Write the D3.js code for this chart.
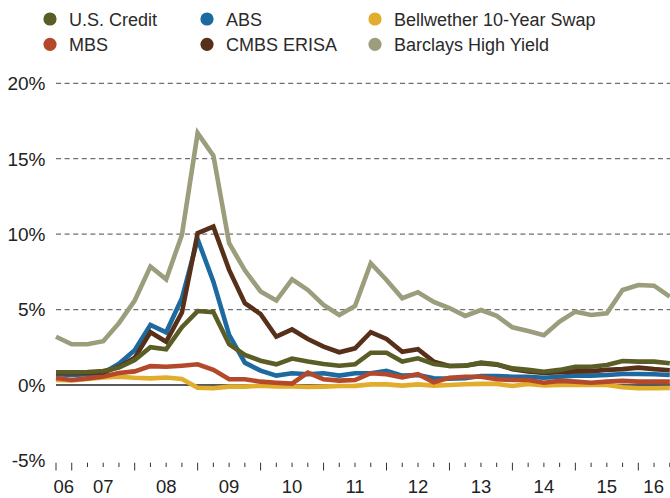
<!DOCTYPE html>
<html><head><meta charset="utf-8">
<script src="https://cdn.jsdelivr.net/npm/d3@7"></script>
<style>
html,body{margin:0;padding:0;background:#fff;}
svg{display:block;font-family:"Liberation Sans",Arial,Helvetica,sans-serif;}
</style></head>
<body>
<svg id="chart" width="670" height="498"></svg>
<script>
// Quarterly observations, 2006 Q4 .. 2016 Q3
const quarters = [];
(function(){ let y=2006,q=4; for(let i=0;i<40;i++){ quarters.push(y+"Q"+q); q++; if(q>4){q=1;y++;} } })();

const seriesNames = ["U.S. Credit","ABS","Bellwether 10-Year Swap","MBS","CMBS ERISA","Barclays High Yield"];
const seriesColors = ["#5a5d25","#1d6aa1","#e2ad2c","#b4482a","#57301a","#9b9d7c"];

const usCredit = [0.84,0.84,0.86,0.93,1.15,1.66,2.5,2.37,3.83,4.9,4.82,2.7,1.99,1.61,1.37,1.75,1.55,1.39,1.28,1.37,2.14,2.14,1.55,1.77,1.39,1.26,1.27,1.48,1.37,1.1,1.0,0.88,1.0,1.21,1.21,1.33,1.59,1.55,1.55,1.44];
const abs = [0.71,0.66,0.72,0.8,1.4,2.3,3.98,3.49,5.75,9.66,6.85,3.32,1.48,0.95,0.62,0.78,0.71,0.78,0.62,0.78,0.78,0.93,0.62,0.66,0.44,0.42,0.45,0.6,0.6,0.55,0.55,0.48,0.55,0.62,0.62,0.66,0.73,0.73,0.71,0.66];
const swap = [0.33,0.3,0.4,0.5,0.55,0.48,0.44,0.5,0.4,-0.18,-0.22,-0.11,-0.11,-0.05,-0.1,-0.1,-0.13,-0.11,-0.07,-0.06,0.04,0.04,-0.04,0.04,-0.04,0.0,0.05,0.07,0.07,-0.07,0.07,-0.03,0.0,0.0,0.0,0.0,-0.15,-0.22,-0.22,-0.2];
const mbs = [0.46,0.33,0.44,0.57,0.8,0.9,1.25,1.21,1.28,1.37,1.0,0.38,0.38,0.22,0.15,0.09,0.82,0.38,0.29,0.33,0.78,0.71,0.51,0.71,0.18,0.48,0.55,0.55,0.38,0.33,0.33,0.15,0.27,0.22,0.15,0.22,0.27,0.22,0.22,0.22];
const cmbs = [0.8,0.78,0.8,0.85,1.2,1.8,3.5,2.87,4.8,10.06,10.5,7.63,5.42,4.7,3.2,3.68,3.05,2.54,2.17,2.43,3.5,3.05,2.2,2.37,1.55,1.26,1.28,1.45,1.35,1.05,0.9,0.8,0.85,0.9,0.92,1.0,1.05,1.15,1.05,0.98];
const highYield = [3.2,2.7,2.7,2.9,4.1,5.6,7.85,7.0,9.95,16.7,15.2,9.4,7.6,6.2,5.6,7.0,6.3,5.3,4.64,5.24,8.07,6.96,5.75,6.15,5.5,5.1,4.58,4.97,4.58,3.82,3.58,3.3,4.2,4.86,4.64,4.75,6.3,6.63,6.58,5.86];

const yTicks = [20,15,10,5,0,-5];
const yearLabels = ["06","07","08","09","10","11","12","13","14","15","16"];

const svg = d3.select("#chart");
const x = d3.scalePoint().domain(quarters).range([56, 669.8]);
const y = d3.scaleLinear().domain([-5,20]).range([460.4, 83.3]);
const left = 56, right = 670;

// gridlines
yTicks.forEach(t=>{
  if (t>0) {
    svg.append("line").attr("x1",left).attr("x2",right).attr("y1",y(t)).attr("y2",y(t))
      .attr("stroke","#6f6f6f").attr("stroke-width",1.2).attr("stroke-dasharray","5,3.6");
  }
  svg.append("text").attr("x",45.5).attr("y",y(t)+6.8).attr("text-anchor","end")
    .attr("font-size",19).attr("fill","#222").text(t+"%");
});

// x axis ticks
quarters.forEach((q,i)=>{
  const tall = (i===0 || q.endsWith("Q1"));
  svg.append("line").attr("x1",x(q)).attr("x2",x(q)).attr("y1",462.7).attr("y2",tall?470.5:467)
    .attr("stroke","#333").attr("stroke-width",1);
});
yearLabels.forEach(lbl=>{
  const yr = 2000+ +lbl;
  const a = quarters.includes(yr+"Q1") ? x(yr+"Q1") : x.range()[0];
  const b = quarters.includes((yr+1)+"Q1") ? x((yr+1)+"Q1") : right-1;
  svg.append("text").attr("x",(a+b)/2).attr("y",493).attr("text-anchor","middle")
    .attr("font-size",18.5).attr("fill","#222").text(lbl);
});

// zero line
svg.append("line").attr("x1",left).attr("x2",right).attr("y1",y(0)).attr("y2",y(0))
  .attr("stroke","#222").attr("stroke-width",1.6);

const line = d3.line().x((d,i)=>x(quarters[i])).y(d=>y(d));
const drawOrder = [[highYield,5],[swap,2],[abs,1],[mbs,3],[cmbs,4],[usCredit,0]];
drawOrder.forEach(([vals,ci])=>{
  svg.append("path").datum(vals).attr("d",line).attr("fill","none")
    .attr("stroke",seriesColors[ci]).attr("stroke-width",4.6)
    .attr("stroke-linejoin","miter").attr("stroke-miterlimit",6);
});

// legend
const legendPos = [[50,19],[207,19],[375,19],[50,44.3],[207,44.3],[375,44.3]];
const legendOrder = [0,1,2,3,4,5];
legendOrder.forEach((si,k)=>{
  const [cx,cy] = legendPos[k];
  svg.append("circle").attr("cx",cx).attr("cy",cy).attr("r",6.6).attr("fill",seriesColors[si]);
  svg.append("text").attr("x",cx+19).attr("y",cy+6.5).attr("font-size",18)
    .attr("fill","#2a2a2a").text(seriesNames[si]);
});
</script>
</body></html>
